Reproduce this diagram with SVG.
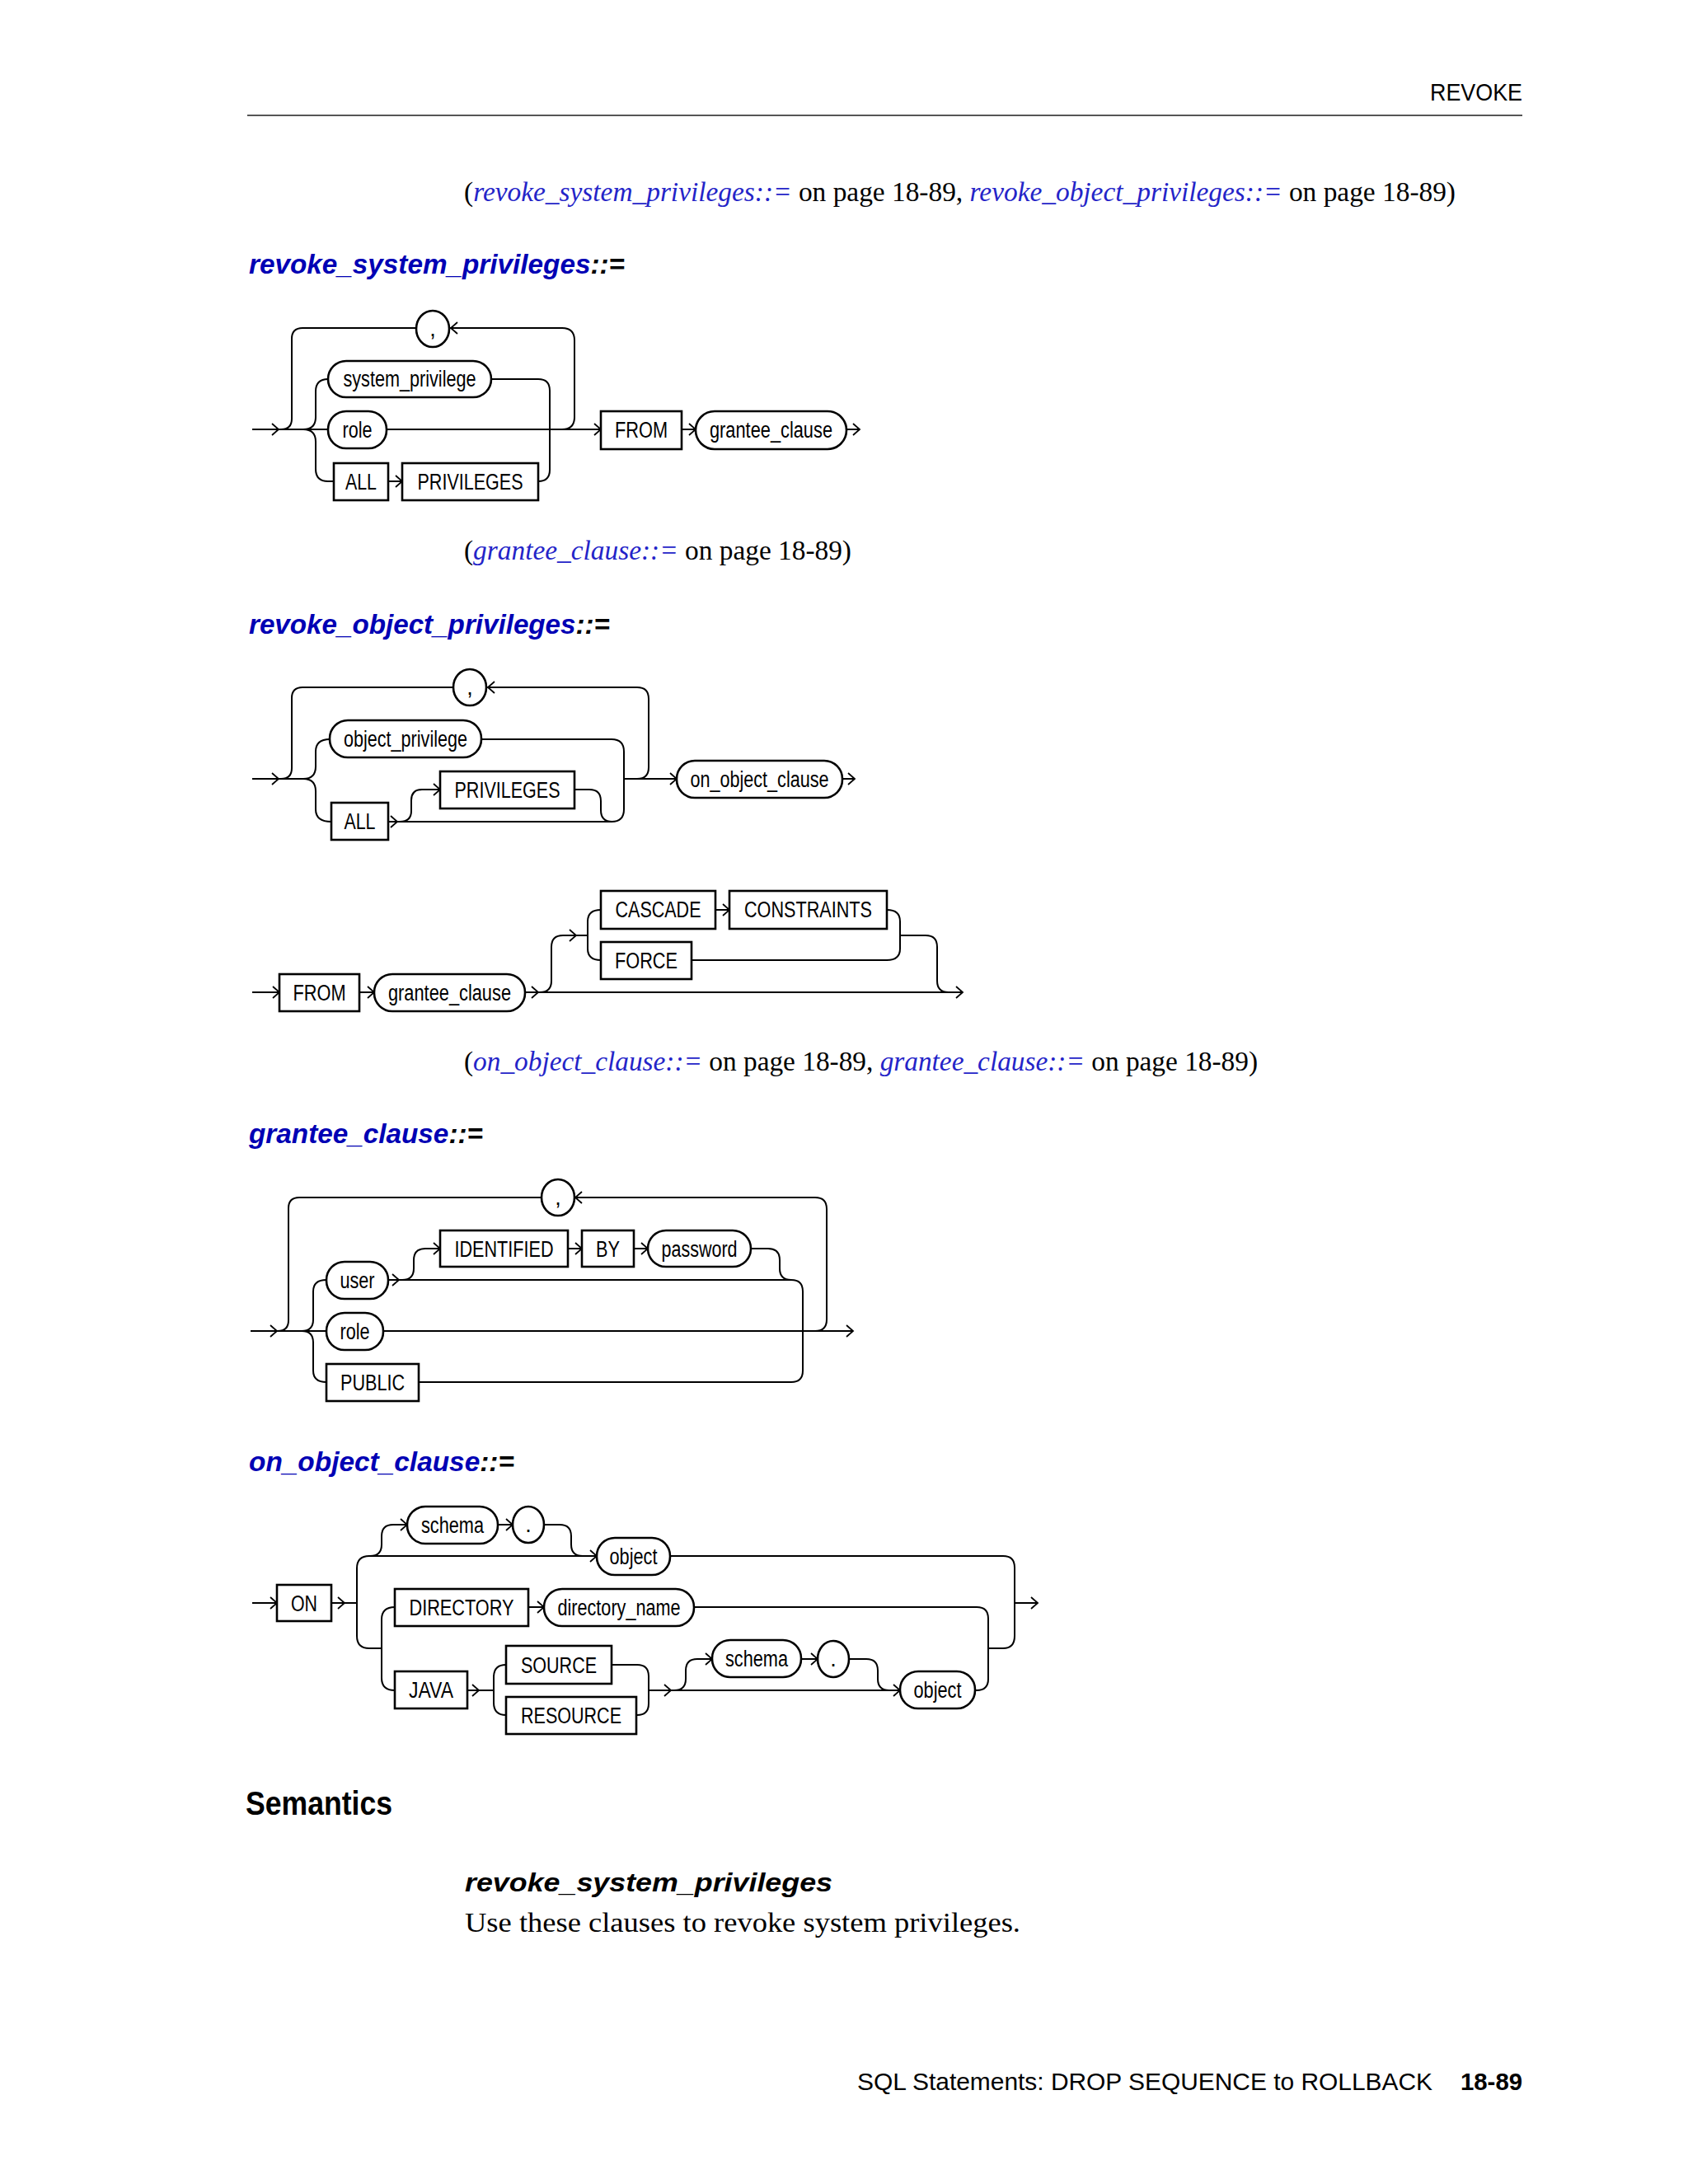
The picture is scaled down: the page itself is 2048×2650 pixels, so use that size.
<svg xmlns="http://www.w3.org/2000/svg" xmlns:xlink="http://www.w3.org/1999/xlink" width="2048" height="2650" viewBox="0 0 2048 2650">
<style>
.ln{fill:none;stroke:#000;stroke-width:2}
.chev{fill:none;stroke:#000;stroke-width:1.8}
.bx{fill:#fff;stroke:#000;stroke-width:2.6}
.lb{font-family:"Liberation Sans",Arial,sans-serif;font-size:27px;text-anchor:middle;fill:#000}
.hd{font-family:"Liberation Sans",Arial,sans-serif;font-size:33px;font-weight:bold;font-style:italic;fill:#0000b4}
.ref{font-family:"Liberation Serif","Times New Roman",serif;font-size:33px;fill:#000}
.lnk{font-style:italic;fill:#2424c8}
.sans{font-family:"Liberation Sans",Arial,sans-serif;fill:#000}
</style>
<defs>
<path id="ar" class="chev" d="M-8,-7 L0,0 L-8,7"/>
<path id="al" class="chev" d="M8,-7 L0,0 L8,7"/>
</defs>
<rect x="0" y="0" width="2048" height="2650" fill="#fff"/>

<g id="page-header">
<text class="sans" x="1847" y="122" font-size="30" text-anchor="end" textLength="112" lengthAdjust="spacingAndGlyphs">REVOKE</text>
<line x1="300" y1="140" x2="1847" y2="140" stroke="#555" stroke-width="2"/>
</g>

<g id="ref-1"><text class="ref" x="563" y="244" textLength="1203" lengthAdjust="spacingAndGlyphs">(<tspan class="lnk">revoke_system_privileges::=</tspan> on page 18-89, <tspan class="lnk">revoke_object_privileges::=</tspan> on page 18-89)</text></g>

<g id="heading-1"><text class="hd" x="302" y="332" textLength="456" lengthAdjust="spacingAndGlyphs">revoke_system_privileges<tspan fill="#000">::=</tspan></text></g>

<!-- Diagram 1 -->
<g id="d1-connectors">
<path class="ln" d="M306,521 H398"/>
<use href="#ar" x="338" y="521"/>
<path class="ln" d="M341,521 Q354,521 354,508 V411 Q354,398 367,398 H505"/>
<path class="ln" d="M682,521 Q697,521 697,506 V413 Q697,398 682,398 H546"/>
<use href="#al" x="547" y="398"/>
<path class="ln" d="M368,521 Q383,521 383,506 V475 Q383,460 398,460"/>
<path class="ln" d="M368,521 Q383,521 383,536 V569 Q383,584 398,584 H405"/>
<path class="ln" d="M471,584 H488"/>
<use href="#ar" x="488" y="584"/>
<path class="ln" d="M653,584 Q667,584 667,570 V474 Q667,460 653,460 H596"/>
<path class="ln" d="M469,521 H729"/>
<use href="#ar" x="729" y="521"/>
<path class="ln" d="M827,521 H844"/>
<use href="#ar" x="844" y="521"/>
<path class="ln" d="M1027,521 H1043"/>
<use href="#ar" x="1043" y="521"/>
</g>
<g id="d1-comma"><ellipse class="bx" cx="525" cy="399" rx="20" ry="22"/><text class="lb" x="525" y="408">,</text></g>
<g id="d1-system_privilege"><rect class="bx" x="398" y="438" width="198" height="44" rx="22"/><text class="lb" x="497" y="469" textLength="161" lengthAdjust="spacingAndGlyphs">system_privilege</text></g>
<g id="d1-role"><rect class="bx" x="398" y="499" width="71" height="45" rx="22"/><text class="lb" x="433.5" y="531" textLength="36" lengthAdjust="spacingAndGlyphs">role</text></g>
<g id="d1-ALL"><rect class="bx" x="405" y="562" width="66" height="45"/><text class="lb" x="438" y="594" textLength="38" lengthAdjust="spacingAndGlyphs">ALL</text></g>
<g id="d1-PRIVILEGES"><rect class="bx" x="488" y="562" width="165" height="45"/><text class="lb" x="570.5" y="594" textLength="128" lengthAdjust="spacingAndGlyphs">PRIVILEGES</text></g>
<g id="d1-FROM"><rect class="bx" x="729" y="499" width="98" height="46"/><text class="lb" x="778" y="531" textLength="64" lengthAdjust="spacingAndGlyphs">FROM</text></g>
<g id="d1-grantee_clause"><rect class="bx" x="844" y="499" width="183" height="46" rx="23"/><text class="lb" x="935.5" y="531" textLength="149" lengthAdjust="spacingAndGlyphs">grantee_clause</text></g>

<g id="ref-2"><text class="ref" x="563" y="679" textLength="470" lengthAdjust="spacingAndGlyphs">(<tspan class="lnk">grantee_clause::=</tspan> on page 18-89)</text></g>

<g id="heading-2"><text class="hd" x="302" y="769" textLength="438" lengthAdjust="spacingAndGlyphs">revoke_object_privileges<tspan fill="#000">::=</tspan></text></g>

<!-- Diagram 2 -->
<g id="d2-connectors">
<path class="ln" d="M306,945 H370"/>
<use href="#ar" x="338" y="945"/>
<path class="ln" d="M341,945 Q354,945 354,932 V847 Q354,834 367,834 H550"/>
<path class="ln" d="M773,945 Q787,945 787,931 V848 Q787,834 773,834 H591"/>
<use href="#al" x="592" y="834"/>
<path class="ln" d="M368,945 Q383,945 383,930 V912 Q383,897 400,897"/>
<path class="ln" d="M368,945 Q383,945 383,960 V982 Q383,997 402,997"/>
<path class="ln" d="M584,897 H742 Q757,897 757,912 V982 Q757,997 742,997 H471"/>
<use href="#ar" x="482" y="997"/>
<path class="ln" d="M485,997 Q499,997 499,984 V971 Q499,958 512,958 H534"/>
<use href="#ar" x="534" y="958"/>
<path class="ln" d="M697,958 H715 Q729,958 729,972 V983 Q729,997 743,997"/>
<path class="ln" d="M757,945 H821"/>
<use href="#ar" x="821" y="945"/>
<path class="ln" d="M1022,945 H1037"/>
<use href="#ar" x="1037" y="945"/>
</g>
<g id="d2-comma"><ellipse class="bx" cx="570" cy="834" rx="20" ry="22"/><text class="lb" x="570" y="843">,</text></g>
<g id="d2-object_privilege"><rect class="bx" x="400" y="874" width="184" height="45" rx="22"/><text class="lb" x="492" y="906" textLength="150" lengthAdjust="spacingAndGlyphs">object_privilege</text></g>
<g id="d2-ALL"><rect class="bx" x="402" y="974" width="69" height="45"/><text class="lb" x="436.5" y="1006" textLength="38" lengthAdjust="spacingAndGlyphs">ALL</text></g>
<g id="d2-PRIVILEGES"><rect class="bx" x="534" y="936" width="163" height="45"/><text class="lb" x="615.5" y="968" textLength="128" lengthAdjust="spacingAndGlyphs">PRIVILEGES</text></g>
<g id="d2-on_object_clause"><rect class="bx" x="821" y="923" width="201" height="45" rx="22"/><text class="lb" x="921.5" y="955" textLength="168" lengthAdjust="spacingAndGlyphs">on_object_clause</text></g>

<!-- Diagram 2b -->
<g id="d2b-connectors">
<path class="ln" d="M306,1204 H339"/>
<use href="#ar" x="339" y="1204"/>
<path class="ln" d="M436,1204 H454"/>
<use href="#ar" x="454" y="1204"/>
<path class="ln" d="M637,1204 H1168"/>
<use href="#ar" x="653" y="1204"/>
<use href="#ar" x="1168" y="1204"/>
<path class="ln" d="M655,1204 Q669,1204 669,1190 V1149 Q669,1135 683,1135 H713"/>
<use href="#ar" x="699" y="1135"/>
<path class="ln" d="M729,1104 Q713,1104 713,1118 V1151 Q713,1165 729,1165"/>
<path class="ln" d="M868,1104 H885"/>
<use href="#ar" x="885" y="1104"/>
<path class="ln" d="M1076,1104 Q1092,1104 1092,1118 V1151 Q1092,1165 1076,1165 H839"/>
<path class="ln" d="M1092,1135 H1123 Q1137,1135 1137,1149 V1190 Q1137,1204 1151,1204"/>
</g>
<g id="d2b-FROM"><rect class="bx" x="339" y="1182" width="97" height="45"/><text class="lb" x="387.5" y="1214" textLength="64" lengthAdjust="spacingAndGlyphs">FROM</text></g>
<g id="d2b-grantee_clause"><rect class="bx" x="454" y="1182" width="183" height="45" rx="22"/><text class="lb" x="545.5" y="1214" textLength="149" lengthAdjust="spacingAndGlyphs">grantee_clause</text></g>
<g id="d2b-CASCADE"><rect class="bx" x="729" y="1081" width="139" height="46"/><text class="lb" x="798.5" y="1113" textLength="104" lengthAdjust="spacingAndGlyphs">CASCADE</text></g>
<g id="d2b-CONSTRAINTS"><rect class="bx" x="885" y="1081" width="191" height="46"/><text class="lb" x="980.5" y="1113" textLength="155" lengthAdjust="spacingAndGlyphs">CONSTRAINTS</text></g>
<g id="d2b-FORCE"><rect class="bx" x="729" y="1143" width="110" height="45"/><text class="lb" x="784" y="1175" textLength="76" lengthAdjust="spacingAndGlyphs">FORCE</text></g>

<g id="ref-3"><text class="ref" x="563" y="1299" textLength="963" lengthAdjust="spacingAndGlyphs">(<tspan class="lnk">on_object_clause::=</tspan> on page 18-89, <tspan class="lnk">grantee_clause::=</tspan> on page 18-89)</text></g>

<g id="heading-3"><text class="hd" x="302" y="1387" textLength="284" lengthAdjust="spacingAndGlyphs">grantee_clause<tspan fill="#000">::=</tspan></text></g>

<!-- Diagram 3 -->
<g id="d3-connectors">
<path class="ln" d="M304,1615 H396"/>
<use href="#ar" x="336" y="1615"/>
<path class="ln" d="M337,1615 Q350,1615 350,1602 V1466 Q350,1453 363,1453 H657"/>
<path class="ln" d="M989,1615 Q1003,1615 1003,1601 V1467 Q1003,1453 989,1453 H697"/>
<use href="#al" x="698" y="1453"/>
<path class="ln" d="M366,1615 Q380,1615 380,1601 V1567 Q380,1553 396,1553"/>
<path class="ln" d="M366,1615 Q380,1615 380,1629 V1663 Q380,1677 396,1677"/>
<path class="ln" d="M471,1553 H960 Q974,1553 974,1567 V1663 Q974,1677 960,1677 H508"/>
<use href="#ar" x="484" y="1553"/>
<path class="ln" d="M465,1615 H1035"/>
<use href="#ar" x="1035" y="1615"/>
<path class="ln" d="M488,1553 Q502,1553 502,1539 V1529 Q502,1515 516,1515 H534"/>
<use href="#ar" x="534" y="1515"/>
<path class="ln" d="M689,1515 H706"/>
<use href="#ar" x="706" y="1515"/>
<path class="ln" d="M769,1515 H786"/>
<use href="#ar" x="786" y="1515"/>
<path class="ln" d="M911,1515 H932 Q946,1515 946,1529 V1539 Q946,1553 960,1553"/>
</g>
<g id="d3-comma"><ellipse class="bx" cx="677" cy="1453" rx="20" ry="22"/><text class="lb" x="677" y="1462">,</text></g>
<g id="d3-user"><rect class="bx" x="396" y="1531" width="75" height="45" rx="22"/><text class="lb" x="433.5" y="1563" textLength="42" lengthAdjust="spacingAndGlyphs">user</text></g>
<g id="d3-role"><rect class="bx" x="396" y="1593" width="69" height="45" rx="22"/><text class="lb" x="430.5" y="1625" textLength="36" lengthAdjust="spacingAndGlyphs">role</text></g>
<g id="d3-PUBLIC"><rect class="bx" x="396" y="1655" width="112" height="45"/><text class="lb" x="452" y="1687" textLength="78" lengthAdjust="spacingAndGlyphs">PUBLIC</text></g>
<g id="d3-IDENTIFIED"><rect class="bx" x="534" y="1493" width="155" height="44"/><text class="lb" x="611.5" y="1525" textLength="120" lengthAdjust="spacingAndGlyphs">IDENTIFIED</text></g>
<g id="d3-BY"><rect class="bx" x="706" y="1493" width="63" height="44"/><text class="lb" x="737.5" y="1525" textLength="29" lengthAdjust="spacingAndGlyphs">BY</text></g>
<g id="d3-password"><rect class="bx" x="786" y="1493" width="125" height="44" rx="22"/><text class="lb" x="848.5" y="1525" textLength="92" lengthAdjust="spacingAndGlyphs">password</text></g>

<g id="heading-4"><text class="hd" x="302" y="1785" textLength="322" lengthAdjust="spacingAndGlyphs">on_object_clause<tspan fill="#000">::=</tspan></text></g>

<!-- Diagram 4 -->
<g id="d4-connectors">
<path class="ln" d="M306,1945 H336"/>
<use href="#ar" x="336" y="1945"/>
<path class="ln" d="M402,1945 H433"/>
<use href="#ar" x="418" y="1945"/>
<path class="ln" d="M448,1888 Q433,1888 433,1903 V1985 Q433,2000 448,2000 H463"/>
<path class="ln" d="M448,1888 H724"/>
<use href="#ar" x="724" y="1888"/>
<path class="ln" d="M449,1888 Q463,1888 463,1874 V1864 Q463,1850 477,1850 H494"/>
<use href="#ar" x="494" y="1850"/>
<path class="ln" d="M604,1850 H622"/>
<use href="#ar" x="622" y="1850"/>
<path class="ln" d="M660,1850 H679 Q693,1850 693,1864 V1874 Q693,1888 707,1888"/>
<path class="ln" d="M813,1888 H1217 Q1231,1888 1231,1902 V1985 Q1231,2000 1217,2000 H1199"/>
<path class="ln" d="M1231,1945 H1259"/>
<use href="#ar" x="1259" y="1945"/>
<path class="ln" d="M479,1950 Q463,1950 463,1965 V2036 Q463,2051 479,2051"/>
<path class="ln" d="M641,1950 H660"/>
<use href="#ar" x="660" y="1950"/>
<path class="ln" d="M842,1950 H1185 Q1199,1950 1199,1964 V2037 Q1199,2051 1185,2051 H1183"/>
<path class="ln" d="M567,2051 H599"/>
<use href="#ar" x="581" y="2051"/>
<path class="ln" d="M614,2020 Q599,2020 599,2035 V2066 Q599,2081 614,2081"/>
<path class="ln" d="M742,2020 H773 Q787,2020 787,2034 V2067 Q787,2081 773,2081 H772"/>
<path class="ln" d="M787,2051 H1092"/>
<use href="#ar" x="814" y="2051"/>
<use href="#ar" x="1092" y="2051"/>
<path class="ln" d="M818,2051 Q832,2051 832,2037 V2027 Q832,2013 846,2013 H864"/>
<use href="#ar" x="864" y="2013"/>
<path class="ln" d="M972,2013 H992"/>
<use href="#ar" x="992" y="2013"/>
<path class="ln" d="M1030,2013 H1051 Q1065,2013 1065,2027 V2037 Q1065,2051 1079,2051"/>
</g>
<g id="d4-ON"><rect class="bx" x="336" y="1923" width="66" height="44"/><text class="lb" x="369" y="1955" textLength="32" lengthAdjust="spacingAndGlyphs">ON</text></g>
<g id="d4-schema"><rect class="bx" x="494" y="1828" width="110" height="45" rx="22"/><text class="lb" x="549" y="1860" textLength="76" lengthAdjust="spacingAndGlyphs">schema</text></g>
<g id="d4-dot"><ellipse class="bx" cx="641" cy="1850" rx="19" ry="22"/><text class="lb" x="641" y="1859">.</text></g>
<g id="d4-object"><rect class="bx" x="724" y="1866" width="89" height="45" rx="22"/><text class="lb" x="768.5" y="1898" textLength="58" lengthAdjust="spacingAndGlyphs">object</text></g>
<g id="d4-DIRECTORY"><rect class="bx" x="479" y="1928" width="162" height="45"/><text class="lb" x="560" y="1960" textLength="127" lengthAdjust="spacingAndGlyphs">DIRECTORY</text></g>
<g id="d4-directory_name"><rect class="bx" x="660" y="1928" width="182" height="45" rx="22"/><text class="lb" x="751" y="1960" textLength="149" lengthAdjust="spacingAndGlyphs">directory_name</text></g>
<g id="d4-JAVA"><rect class="bx" x="479" y="2028" width="88" height="45"/><text class="lb" x="523" y="2060" textLength="54" lengthAdjust="spacingAndGlyphs">JAVA</text></g>
<g id="d4-SOURCE"><rect class="bx" x="614" y="1997" width="128" height="46"/><text class="lb" x="678" y="2030" textLength="92" lengthAdjust="spacingAndGlyphs">SOURCE</text></g>
<g id="d4-RESOURCE"><rect class="bx" x="614" y="2059" width="158" height="45"/><text class="lb" x="693" y="2091" textLength="122" lengthAdjust="spacingAndGlyphs">RESOURCE</text></g>
<g id="d4-schema2"><rect class="bx" x="864" y="1990" width="108" height="45" rx="22"/><text class="lb" x="918" y="2022" textLength="76" lengthAdjust="spacingAndGlyphs">schema</text></g>
<g id="d4-dot2"><ellipse class="bx" cx="1011" cy="2013" rx="19" ry="22"/><text class="lb" x="1011" y="2022">.</text></g>
<g id="d4-object2"><rect class="bx" x="1092" y="2028" width="91" height="45" rx="22"/><text class="lb" x="1137.5" y="2060" textLength="58" lengthAdjust="spacingAndGlyphs">object</text></g>

<g id="semantics">
<text class="sans" x="298" y="2202" font-size="40" font-weight="bold" textLength="178" lengthAdjust="spacingAndGlyphs">Semantics</text>
<text class="sans" x="564" y="2295" font-size="32" font-weight="bold" font-style="italic" textLength="446" lengthAdjust="spacingAndGlyphs">revoke_system_privileges</text>
<text class="ref" x="564" y="2344" font-size="34" textLength="674" lengthAdjust="spacingAndGlyphs">Use these clauses to revoke system privileges.</text>
</g>

<g id="page-footer">
<text class="sans" x="1040" y="2536" font-size="30" textLength="698" lengthAdjust="spacingAndGlyphs">SQL Statements: DROP SEQUENCE to ROLLBACK</text>
<text class="sans" x="1847" y="2536" font-size="30" font-weight="bold" text-anchor="end" textLength="75" lengthAdjust="spacingAndGlyphs">18-89</text>
</g>
</svg>
